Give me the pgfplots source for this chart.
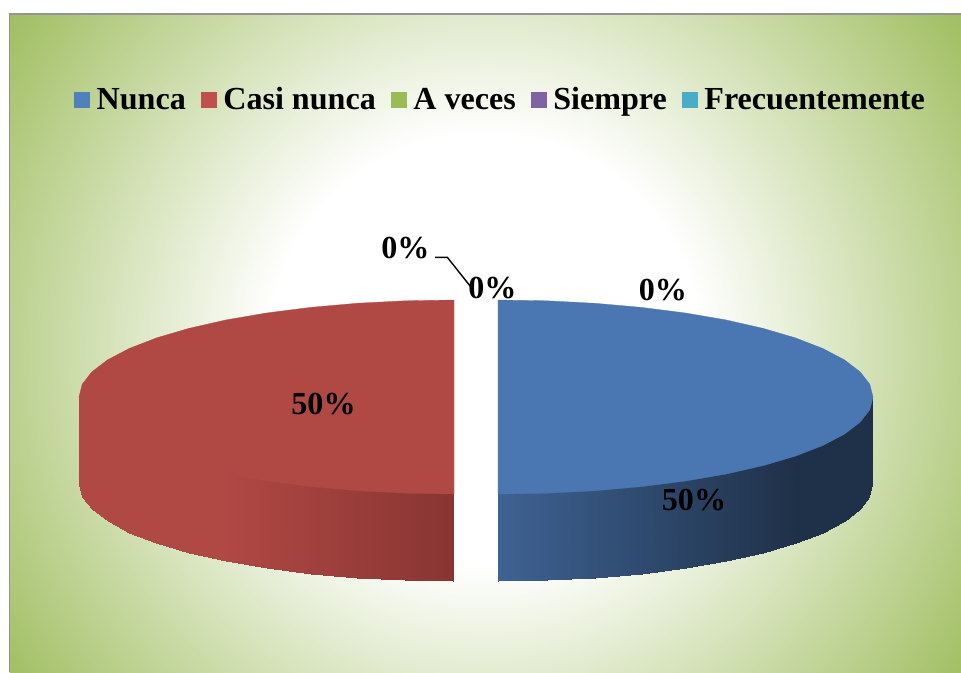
\documentclass[border=0pt]{standalone}
\usepackage{fontspec}
\setmainfont{Liberation Serif}
\usepackage{pgfplots}
\pgfplotsset{compat=1.18}
\definecolor{bggreen}{HTML}{9BBB59}
\definecolor{topblue}{HTML}{4A77B2}
\definecolor{topred}{HTML}{B04844}
\definecolor{lgA}{RGB}{79,129,189}
\definecolor{lgB}{RGB}{192,80,77}
\definecolor{lgC}{RGB}{155,187,89}
\definecolor{lgD}{RGB}{128,100,162}
\definecolor{lgE}{RGB}{75,172,198}
\pgfdeclareradialshading{bgshade}{\pgfpoint{0bp}{0bp}}{color(0bp)=(white); color(9bp)=(white); color(25bp)=(bggreen); color(50bp)=(bggreen)}
\begin{document}
\begin{tikzpicture}[font=\fontsize{32.1pt}{36pt}\selectfont\bfseries]
\begin{axis}[
  scale only axis, width=961pt, height=672pt,
  xmin=0, xmax=961, ymin=0, ymax=672, y dir=reverse,
  axis lines=none, clip=true,
  legend columns=5,
  legend image code/.code={\fill[#1,draw=none] (0pt,-8pt) rectangle (16pt,8pt);},
  legend style={draw=none, fill=none, at={(axis cs:499.5,99.5)}, anchor=center,
    inner sep=0pt, outer sep=0pt,
    nodes={inner sep=0pt, outer sep=0pt, anchor=center},
    /tikz/every odd column/.append style={column sep=6.5pt},
    /tikz/every even column/.append style={column sep=15pt}},
]
% page extent and background
\path[fill=white] (axis cs:0,0) rectangle (axis cs:961,672);
\begin{scope}
\clip (axis cs:9.5,14.5) rectangle (axis cs:961,672);
\fill[bggreen] (axis cs:9.5,14.5) rectangle (axis cs:961,672);
\shade[shading=bgshade] (axis cs:485,350) circle (600pt);
\end{scope}
\draw[color=black!42, line width=1.6pt] (axis cs:9.5,672) -- (axis cs:9.5,14) -- (axis cs:961,14);

% blue side
\addplot[surf, shader=interp, forget plot, mesh/rows=2, mesh/cols=13, point meta=explicit,
  colormap={bl}{rgb255=(62,98,147) rgb255=(31,49,72)}, point meta min=0, point meta max=1]
 coordinates {
 (498,484)[0] (546.9,483.2)[0.16] (595.1,480.7)[0.33] (641.5,476.6)[0.48] (685.5,471)[0.63] (726.3,464)[0.77] (763.2,455.6)[0.89] (795.5,446.1)[1] (822.8,435.5)[1] (844.5,424.1)[1] (860.2,412.1)[1] (868.8,399.7)[1] (872,397)[1]
 (498,581)[0] (546.9,580.2)[0.16] (595.1,577.7)[0.33] (641.5,573.6)[0.48] (685.5,568)[0.63] (726.3,561)[0.77] (763.2,552.6)[0.89] (795.5,543.1)[1] (822.8,532.5)[1] (844.5,521.1)[1] (860.2,509.1)[1] (868.8,496.7)[1] (872,484)[1]
 };

% red side
\addplot[surf, shader=interp, forget plot, mesh/rows=2, mesh/cols=13, point meta=explicit,
  colormap={rd}{rgb255=(176,72,68) rgb255=(136,53,50)}, point meta min=0, point meta max=1]
 coordinates {
 (79,397)[0] (82.2,399.7)[0] (91.8,412.1)[0] (107.5,424.1)[0] (129.2,435.5)[0] (156.5,446.1)[0] (188.8,455.6)[0] (225.7,464)[0] (266.5,471)[0.18] (310.5,476.6)[0.37] (356.9,480.7)[0.57] (405.1,483.2)[0.79] (453,484)[1]
 (79,484)[0] (82.2,496.7)[0] (91.8,509.1)[0] (107.5,521.1)[0] (129.2,532.5)[0] (156.5,543.1)[0] (188.8,552.6)[0] (225.7,561)[0] (266.5,568)[0.18] (310.5,573.6)[0.37] (356.9,577.7)[0.57] (405.1,580.2)[0.79] (453,581)[1]
 };

% Nunca 50%: top face
\addplot[fill=topblue, draw=topblue, line width=0.3pt, forget plot] coordinates {
(498,300)(546.9,300.8)(595.1,303.3)(641.5,307.4)(685.5,313)(726.3,320)(763.2,328.4)
(795.5,337.9)(822.8,348.5)(844.5,359.9)(860.2,371.9)(869.8,384.3)(873,397)
(869.8,409.7)(860.2,422.1)(844.5,434.1)(822.8,445.5)(795.5,456.1)(763.2,465.6)
(726.3,474)(685.5,481)(641.5,486.6)(595.1,490.7)(546.9,493.2)(498,494)} -- cycle;

% Casi nunca 50%: top face
\addplot[fill=topred, draw=topred, line width=0.3pt, forget plot] coordinates {
(454,300)(405.1,300.8)(356.9,303.3)(310.5,307.4)(266.5,313)(225.7,320)(188.8,328.4)
(156.5,337.9)(129.2,348.5)(107.5,359.9)(91.8,371.9)(82.2,384.3)(79,397)
(82.2,409.7)(91.8,422.1)(107.5,434.1)(129.2,445.5)(156.5,456.1)(188.8,465.6)
(225.7,474)(266.5,481)(310.5,486.6)(356.9,490.7)(405.1,493.2)(454,494)} -- cycle;

% leader line
\addplot[black, line width=1.4pt, forget plot] coordinates {(435,257.3)(447.3,257.3)(471.7,288)};

% labels
\node[anchor=center] at (axis cs:405.5,248) {0\%};
\node[anchor=center] at (axis cs:492.5,288) {0\%};
\node[anchor=center] at (axis cs:663,290) {0\%};
\node[anchor=center] at (axis cs:323.5,404) {50\%};
\node[anchor=center] at (axis cs:694,500) {50\%};

% legend
\addlegendimage{fill=lgA}
\addlegendentry{Nunca}
\addlegendimage{fill=lgB}
\addlegendentry{Casi nunca}
\addlegendimage{fill=lgC}
\addlegendentry{A veces}
\addlegendimage{fill=lgD}
\addlegendentry{Siempre}
\addlegendimage{fill=lgE}
\addlegendentry{Frecuentemente}
\end{axis}
\end{tikzpicture}
\end{document}
